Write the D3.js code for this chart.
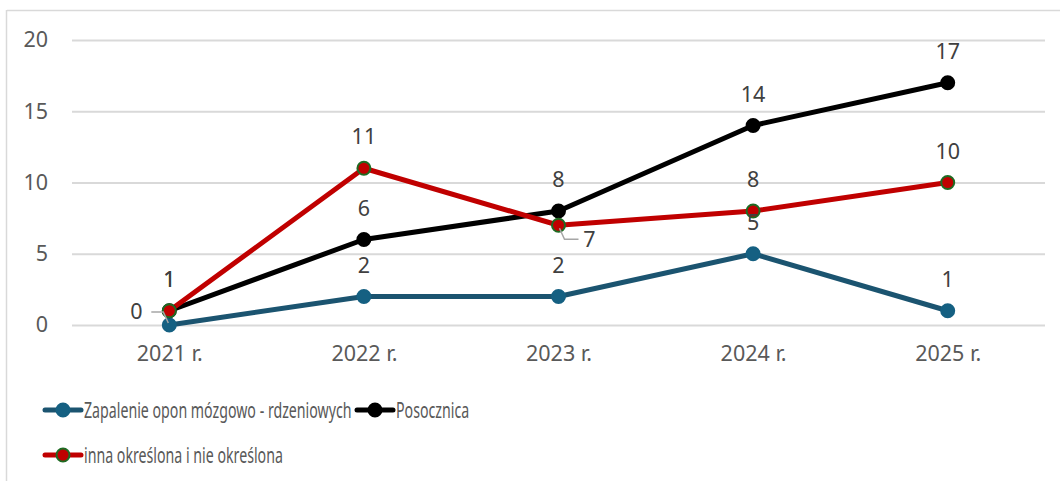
<!DOCTYPE html>
<html>
<head>
<meta charset="utf-8">
<script src="https://cdn.jsdelivr.net/npm/d3@7"></script>
<style>
  body { margin: 0; background: #fff; }
  svg { display: block; }
</style>
</head>
<body>
<div id="chart"></div>
<script>
const years = ["2021 r.", "2022 r.", "2023 r.", "2024 r.", "2025 r."];
const zapalenie = [0, 2, 2, 5, 1];
const posocznica = [1, 6, 8, 14, 17];
const inna = [1, 11, 7, 8, 10];
const yTicks = [0, 5, 10, 15, 20];

const width = 1060, height = 481;
const plot = {left: 72, right: 1045, top: 40, bottom: 325};

const series = [
    {name: "Zapalenie opon mózgowo - rdzeniowych", values: zapalenie, line: "#1b5470", fill: "#156082", stroke: "#156082"},
    {name: "Posocznica", values: posocznica, line: "#000000", fill: "#000000", stroke: "#000000"},
    {name: "inna określona i nie określona", values: inna, line: "#c00000", fill: "#c00000", stroke: "#1e6b23"}
];

const svg = d3.select("#chart").append("svg")
    .attr("width", width)
    .attr("height", height);

// frame edges (chart is cropped at top)
svg.append("line").attr("x1", 7).attr("x2", width).attr("y1", 10.5).attr("y2", 10.5)
    .attr("stroke", "#d9d9d9").attr("stroke-width", 1.5);
svg.append("line").attr("x1", 6.5).attr("x2", 6.5).attr("y1", 10).attr("y2", height)
    .attr("stroke", "#d9d9d9").attr("stroke-width", 1.5);

const x = d3.scalePoint()
    .domain(years)
    .range([plot.left, plot.right])
    .padding(0.5);

const y = d3.scaleLinear()
    .domain([0, 20])
    .range([plot.bottom, plot.top]);

const font = "'Noto Sans', 'Open Sans', sans-serif";
const fsize = "21.5px";

// gridlines + y labels
let yAxis = svg.append("g")
    .attr("transform", `translate(${plot.left},0)`)
    .call(d3.axisLeft(y).tickValues(yTicks).tickSize(-(plot.right - plot.left)).tickPadding(24));
yAxis.select(".domain").remove();
yAxis.selectAll(".tick line").attr("stroke", "#d9d9d9").attr("stroke-width", 2);
yAxis.selectAll(".tick text")
    .attr("fill", "#595959")
    .style("font-family", font)
    .style("font-size", fsize);

// x labels
let xAxis = svg.append("g")
    .attr("transform", `translate(0,${plot.bottom})`)
    .call(d3.axisBottom(x).tickSize(0).tickPadding(21));
xAxis.select(".domain").remove();
xAxis.selectAll(".tick text")
    .attr("fill", "#595959")
    .style("font-family", font)
    .style("font-size", fsize);

const line = d3.line()
    .x((d, i) => x(years[i]))
    .y(d => y(d));

series.forEach(s => {
    svg.append("path")
        .datum(s.values)
        .attr("d", line)
        .attr("fill", "none")
        .attr("stroke", s.line)
        .attr("stroke-width", 5)
        .attr("stroke-linejoin", "round");
});

series.forEach(s => {
    svg.selectAll(null)
        .data(s.values)
        .enter().append("circle")
        .attr("cx", (d, i) => x(years[i]))
        .attr("cy", d => y(d))
        .attr("r", 6.5)
        .attr("fill", s.fill)
        .attr("stroke", s.stroke)
        .attr("stroke-width", 2);
});

// leader lines for moved labels
const leaders = [
    {si: 0, i: 0, pts: [[-1, -2], [-6, -13], [-18, -13]]},
    {si: 2, i: 2, pts: [[1, 3], [6, 14], [20, 14]]}
];
leaders.forEach(l => {
    const cx = x(years[l.i]), cy = y(series[l.si].values[l.i]);
    svg.append("polyline")
        .attr("points", l.pts.map(p => [cx + p[0], cy + p[1]].join(",")).join(" "))
        .attr("fill", "none")
        .attr("stroke", "#a6a6a6")
        .attr("stroke-width", 1.5);
});

// data labels
series.forEach((s, si) => {
    svg.selectAll(null)
        .data(s.values)
        .enter().append("text")
        .attr("x", (d, i) => {
            if (si === 0 && i === 0) return x(years[i]) - 33;
            if (si === 2 && i === 2) return x(years[i]) + 31;
            return x(years[i]);
        })
        .attr("y", (d, i) => {
            if (si === 0 && i === 0) return y(d) - 6;
            if (si === 2 && i === 2) return y(d) + 22;
            return y(d) - 24;
        })
        .attr("text-anchor", "middle")
        .attr("fill", "#404040")
        .style("font-family", font)
        .style("font-size", fsize)
        .text(d => d);
});

// legend (reference uses a narrow face, so squeeze horizontally)
const legendPos = [[45, 410], [357, 410], [45, 455]];
series.forEach((s, si) => {
    const [lx, ly] = legendPos[si];
    const g = svg.append("g").attr("transform", `translate(${lx},${ly})`);
    g.append("line").attr("x1", 0).attr("x2", 36).attr("y1", 0).attr("y2", 0)
        .attr("stroke", s.line).attr("stroke-width", 5).attr("stroke-linecap", "round");
    g.append("circle").attr("cx", 18).attr("cy", 0).attr("r", 6.5)
        .attr("fill", s.fill).attr("stroke", s.stroke).attr("stroke-width", 2);
    g.append("text")
        .attr("transform", "translate(39,8) scale(0.645,1)")
        .attr("fill", "#595959")
        .style("font-family", font)
        .style("font-size", "22px")
        .text(s.name);
});
</script>
</body>
</html>
